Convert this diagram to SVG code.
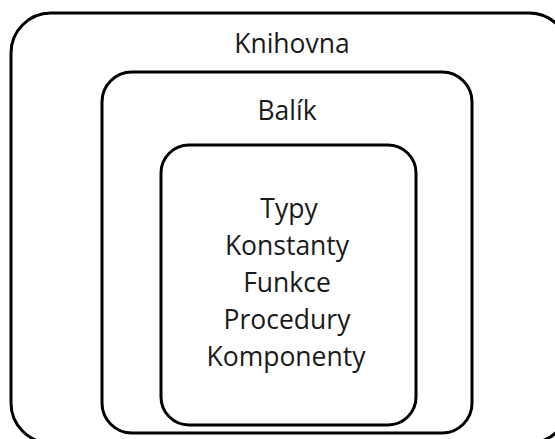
<svg xmlns="http://www.w3.org/2000/svg" width="555" height="439" viewBox="0 0 555 439">
<style>
.box{fill:none;stroke:#000;stroke-width:3}
.t{font-family:"Open Sans","Noto Sans","DejaVu Sans",sans-serif;font-size:26.5px;fill:#1a1a1a;text-anchor:middle}
</style>
<rect width="555" height="439" fill="#fff"/>
<g id="knihovna">
<rect class="box" x="11" y="13" width="558" height="430" rx="40"/>
<text class="t" x="292" y="53">Knihovna</text>
</g>
<g id="balik">
<rect class="box" x="102" y="72" width="370" height="361" rx="30"/>
<text class="t" x="287" y="120">Balík</text>
</g>
<g id="obsah">
<rect class="box" x="161" y="145" width="255" height="280" rx="28"/>
<text class="t" x="289" y="218">Typy</text>
<text class="t" x="287" y="255">Konstanty</text>
<text class="t" x="287" y="292">Funkce</text>
<text class="t" x="287" y="329">Procedury</text>
<text class="t" x="286" y="366">Komponenty</text>
</g>
<g id="connectors"/>
</svg>
